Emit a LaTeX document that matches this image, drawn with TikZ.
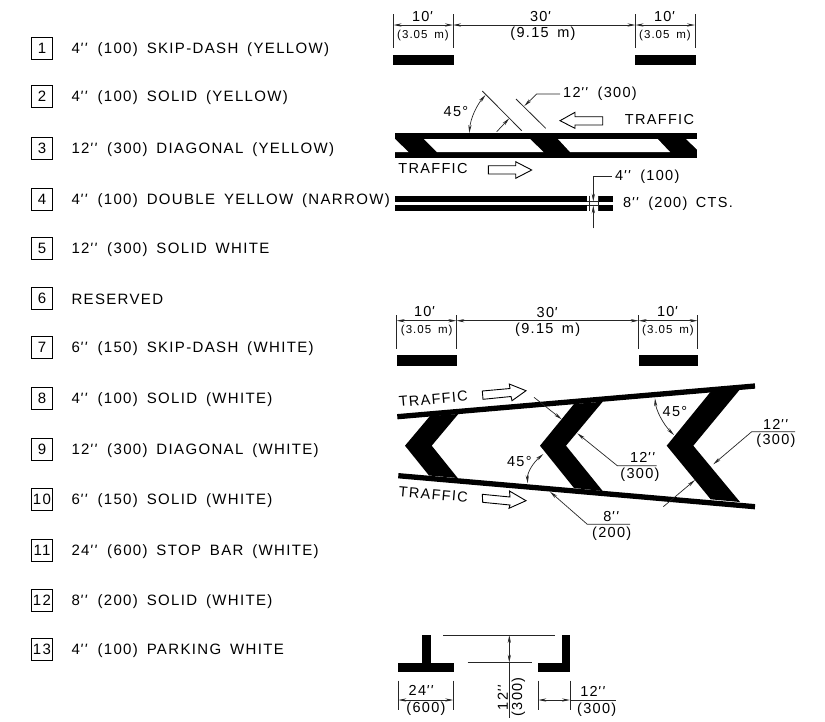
\documentclass[tikz,border=0pt]{standalone}
\usepackage{fontspec}
\usepackage{xcolor}
\usepackage{tikz}
\usetikzlibrary{
    arrows.meta,
    positioning,
}
\newfontfamily\cadfont[LetterSpace=9,WordSpace=1.6]{Liberation Sans}
\newcommand{\inches}{\textit{''}}
\newcommand{\feet}{\textit{'}}

\begin{document}
\begin{tikzpicture}[
        x=1pt, y=-1pt,
        >={Stealth[length=8pt,width=3.2pt]},
        numbox/.style={
            rectangle, draw=black, line width=0.9pt, inner sep=0pt, outer sep=0pt,
            minimum width=21pt, minimum height=22pt,
            font=\cadfont\fontsize{15}{17}\selectfont
        },
        item/.style={inner sep=0pt, outer sep=0pt, yshift=-1.5pt, font=\cadfont\fontsize{15}{17}\selectfont},
        dimtext/.style={inner sep=0pt, font=\cadfont\fontsize{14.5}{16}\selectfont},
        smalldim/.style={inner sep=0pt, font=\cadfont\fontsize{11.5}{13}\selectfont},
        thinline/.style={line width=0.8pt, black!85},
        dimline/.style={<->, line width=0.7pt, black!85},
        leader/.style={->, line width=0.7pt, black!85},
        hollow/.style={draw=black, line width=0.9pt, fill=white},
        paint/.style={fill=black, draw=none},
    ]

    \useasboundingbox (0,0) rectangle (825,721);

    % ── Legend ──
    \node[numbox] (n1) at (42,48) {1};
    \node[numbox, below=26pt of n1] (n2) {2};
    \node[numbox, below=30pt of n2] (n3) {3};
    \node[numbox, below=29pt of n3] (n4) {4};
    \node[numbox, below=27pt of n4] (n5) {5};
    \node[numbox, below=28pt of n5] (n6) {6};
    \node[numbox, below=27pt of n6] (n7) {7};
    \node[numbox, below=29pt of n7] (n8) {8};
    \node[numbox, below=29pt of n8] (n9) {9};
    \node[numbox, below=28pt of n9] (n10) {10};
    \node[numbox, below=29pt of n10] (n11) {11};
    \node[numbox, below=28pt of n11] (n12) {12};
    \node[numbox, below=27pt of n12] (n13) {13};

    \node[item, right=19pt of n1] (t1) {4\inches{} (100) SKIP-DASH (YELLOW)};
    \node[item, right=19pt of n2] (t2) {4\inches{} (100) SOLID (YELLOW)};
    \node[item, right=19pt of n3] (t3) {12\inches{} (300) DIAGONAL (YELLOW)};
    \node[item, right=19pt of n4] (t4) {4\inches{} (100) DOUBLE YELLOW (NARROW)};
    \node[item, right=19pt of n5] (t5) {12\inches{} (300) SOLID WHITE};
    \node[item, right=19pt of n6] (t6) {RESERVED};
    \node[item, right=19pt of n7] (t7) {6\inches{} (150) SKIP-DASH (WHITE)};
    \node[item, right=19pt of n8] (t8) {4\inches{} (100) SOLID (WHITE)};
    \node[item, right=19pt of n9] (t9) {12\inches{} (300) DIAGONAL (WHITE)};
    \node[item, right=19pt of n10] (t10) {6\inches{} (150) SOLID (WHITE)};
    \node[item, right=19pt of n11] (t11) {24\inches{} (600) STOP BAR (WHITE)};
    \node[item, right=19pt of n12] (t12) {8\inches{} (200) SOLID (WHITE)};
    \node[item, right=19pt of n13] (t13) {4\inches{} (100) PARKING WHITE};

    % ── Skip dash, yellow ──
    \foreach \x in {393.5,453,635.5,695}
        \draw[thinline] (\x,14) -- (\x,48);
    \draw[dimline] (393.5,25) -- (453,25);
    \draw[dimline] (453,25) -- (635.5,25);
    \draw[dimline] (635.5,25) -- (695,25);
    \fill[paint] (393,55) rectangle (453.5,65);
    \fill[paint] (635,55) rectangle (695.5,65);
    \node[dimtext] (a10) at (423,17) {10\feet};
    \node[smalldim] (a305) at (423,36) {(3.05 m)};
    \node[dimtext] (a30) at (541,17) {30\feet};
    \node[dimtext] (a915) at (543,34) {(9.15 m)};
    \node[dimtext] (a10r) at (665,17) {10\feet};
    \node[smalldim] (a305r) at (665,36) {(3.05 m)};

    % ── Diagonal, yellow ──
    \fill[paint] (394.5,133) rectangle (697,157.5);
    \fill[white] (424,139) -- (530,139) -- (543.5,152) -- (437,152) -- cycle;
    \fill[white] (558,139) -- (657.7,139) -- (670,152) -- (570,152) -- cycle;
    \fill[white] (394,139) -- (395,139) -- (408.5,152) -- (394,152) -- cycle;
    \fill[white] (686,139) -- (697.5,139) -- (697.5,150) -- cycle;
    \draw[thinline] (482.3,91) -- (521.7,130.7);
    \draw[thinline] (516,99) -- (545.7,128.3);
    \draw[leader] (560,94) -- (536.7,94) -- (524.3,106);
    \draw[leader] (496.7,131.7) -- (509.3,118.3);
    \draw[dimline] (469.3,133) .. controls (470.5,118) and (477,105) .. (485.5,95);
    \node[dimtext] (b45) at (456,112) {45°};
    \node[dimtext, anchor=west] (b12) at (563,94) {12\inches{} (300)};
    \node[dimtext] (btr) at (659.5,120) {TRAFFIC};
    \node[dimtext] (btl) at (433,169) {TRAFFIC};
    \draw[hollow] (602.7,116.7) -- (575,116.7) -- (575,112.3) -- (560,120.7)
        -- (575,128.3) -- (575,125) -- (602.7,125) -- cycle;
    \draw[hollow] (488.3,165.7) -- (515.7,165.7) -- (515.7,161.7) -- (531.7,170)
        -- (515.7,178.3) -- (515.7,174) -- (488.3,174) -- cycle;

    % ── Double yellow ──
    \fill[paint] (395,195.7) rectangle (587.3,201.7);
    \fill[paint] (395,205.3) rectangle (587.3,211.3);
    \fill[paint] (599,195.7) rectangle (613.3,201.7);
    \fill[paint] (599,205.3) rectangle (613.3,211.3);
    \draw[thinline] (587.3,201.7) -- (599,201.7);
    \draw[thinline] (587.3,205.3) -- (599,205.3);
    \draw[thinline] (589,195.7) -- (589,211.3);
    \draw[thinline] (598.5,195.7) -- (598.5,211.3);
    \draw[leader] (611.7,176.7) -- (593.3,176.7) -- (593.3,201.7);
    \draw[leader] (593.3,228.3) -- (593.3,205.3);
    \node[dimtext, anchor=west] (c4) at (615,177) {4\inches{} (100)};
    \node[dimtext, anchor=west] (c8) at (623,204) {8\inches{} (200) CTS.};

    % ── Skip dash, white ──
    \foreach \x in {396.7,456.3,638.7,697.7}
        \draw[thinline] (\x,315) -- (\x,349);
    \draw[dimline] (396.7,320.7) -- (456.3,320.7);
    \draw[dimline] (456.3,320.7) -- (638.7,320.7);
    \draw[dimline] (638.7,320.7) -- (697.7,320.7);
    \fill[paint] (396.7,355.3) rectangle (457,365.7);
    \fill[paint] (638.7,355.3) rectangle (698.3,365.7);
    \node[dimtext] (d10) at (425,312) {10\feet};
    \node[smalldim] (d305) at (426.7,331) {(3.05 m)};
    \node[dimtext] (d30) at (547.7,312.7) {30\feet};
    \node[dimtext] (d915) at (547.7,330) {(9.15 m)};
    \node[dimtext] (d10r) at (668,312) {10\feet};
    \node[smalldim] (d305r) at (668,331) {(3.05 m)};

    % ── Diagonal, white ──
    \draw[line width=5.3pt] (397.3,416.7) -- (755,386);
    \draw[line width=5.3pt] (398.3,475.7) -- (755,506.7);
    \fill[paint] (430,416) -- (458.3,414) -- (431.7,445.7) -- (457.7,478)
        -- (429,475.5) -- (405,445.7) -- cycle;
    \fill[paint] (574,404) -- (602.7,401.7) -- (566,445.7) -- (602.7,491)
        -- (574,488) -- (540,445.7) -- cycle;
    \fill[paint] (710.7,391.7) -- (740,389.3) -- (693.3,445.7) -- (740,502)
        -- (710.7,499.3) -- (666.7,445.7) -- cycle;
    \draw[leader] (534,397.3) -- (561.7,419.3);
    \draw[leader] (656.7,465.7) -- (617.3,465.7) -- (577.3,433.3);
    \draw[leader] (795,431.7) -- (751.7,431.7) -- (713.3,464.3);
    \draw[leader] (663.3,506.7) -- (695,480);
    \draw[leader] (630,524.3) -- (587.3,524.3) -- (550,491.7);
    \draw[dimline] (527.7,483.3) .. controls (527,472) and (534,462) .. (543.3,454);
    \draw[dimline] (655,398.3) .. controls (656,410) and (663,424) .. (674,435);
    \node[dimtext] (e45l) at (519.3,461.7) {45°};
    \node[dimtext] (e45r) at (675,411.7) {45°};
    \node[dimtext] (e12a) at (643,457.7) {12\inches};
    \node[dimtext] (e300a) at (640,475) {(300)};
    \node[dimtext] (e12b) at (776,424) {12\inches};
    \node[dimtext] (e300b) at (776,440.7) {(300)};
    \node[dimtext] (e8) at (611.7,516) {8\inches};
    \node[dimtext] (e200) at (611.7,533.3) {(200)};
    \node[dimtext, rotate=5] (etu) at (433.3,399) {TRAFFIC};
    \node[dimtext, rotate=-5] (etl) at (433.3,494.3) {TRAFFIC};
    \draw[hollow] (482.3,391) -- (510,388.5) -- (509.3,384) -- (526,390.7)
        -- (512,400.7) -- (511,396.5) -- (483,399.3) -- cycle;
    \draw[hollow] (482.3,494.3) -- (510,497) -- (509.5,491) -- (526,500.7)
        -- (509,508.3) -- (510,505) -- (482.7,502.3) -- cycle;

    % ── Parking and stop bar ──
    \fill[paint] (398.3,663) rectangle (454,671.7);
    \fill[paint] (422.3,635) rectangle (431,663);
    \fill[paint] (538.3,663) rectangle (570,671.7);
    \fill[paint] (561.7,635) rectangle (570,663);
    \draw[thinline] (443.3,635) -- (555,635);
    \draw[thinline] (467.7,662.7) -- (531.7,662.7);
    \draw[dimline] (509.3,635) -- (509.3,662.7);
    \draw[thinline] (509.3,662.7) -- (509.3,718);
    \foreach \x in {398.3,453.3,538.3,570}
        \draw[thinline] (\x,680.7) -- (\x,710);
    \draw[dimline] (398.3,700) -- (453.3,700);
    \draw[dimline] (538.3,700) -- (570,700);
    \draw[line width=0.7pt, black!85] (570,700) -- (616,700);
    \node[dimtext] (f24) at (421.7,690.7) {24\inches};
    \node[dimtext] (f600) at (426,708.3) {(600)};
    \node[dimtext, rotate=90] (f12) at (502.7,697.3) {12\inches};
    \node[dimtext, rotate=90] (f300) at (518.3,696.7) {(300)};
    \node[dimtext] (g12) at (593.3,691.7) {12\inches};
    \node[dimtext] (g300) at (596.7,709.3) {(300)};

\end{tikzpicture}
\end{document}
